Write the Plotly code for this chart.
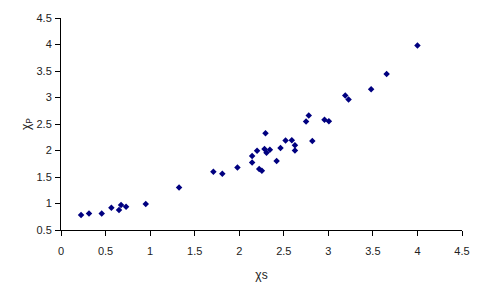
import plotly.graph_objects as go

chi_s = [0.225, 0.314, 0.457, 0.565, 0.651, 0.674, 0.73, 0.951, 1.325, 1.71, 1.81,
         1.98, 2.145, 2.145, 2.20, 2.224, 2.254, 2.284, 2.295, 2.306, 2.344, 2.42,
         2.463, 2.52, 2.59, 2.625, 2.625, 2.75, 2.78, 2.82, 2.957, 3.006,
         3.19, 3.227, 3.48, 3.654, 4.0]
chi_p = [0.783, 0.813, 0.813, 0.92, 0.877, 0.971, 0.94, 0.99, 1.30, 1.60, 1.56,
         1.68, 1.894, 1.774, 1.994, 1.649, 1.617, 2.03, 2.327, 1.956, 2.013, 1.80,
         2.045, 2.19, 2.195, 2.10, 2.0, 2.546, 2.66, 2.177, 2.578, 2.553,
         3.04, 2.96, 3.156, 3.445, 3.98]

x_ticks = [0, 0.5, 1, 1.5, 2, 2.5, 3, 3.5, 4, 4.5]
y_ticks = [0.5, 1, 1.5, 2, 2.5, 3, 3.5, 4, 4.5]

fig = go.Figure(go.Scatter(
    x=chi_s, y=chi_p, mode="markers",
    marker=dict(symbol="diamond", size=5, color="#000080", line=dict(width=0)),
))

axis_common = dict(
    showgrid=False, zeroline=False, showline=True, linecolor="#000", linewidth=1,
    ticks="outside", ticklen=5, tickcolor="#000", tickwidth=1,
    tickfont=dict(family="Liberation Sans, Arial", size=11, color="#222"),
)

fig.update_layout(
    width=500, height=294,
    margin=dict(l=61, r=38, t=18, b=64),
    paper_bgcolor="white", plot_bgcolor="white",
    showlegend=False,
    xaxis=dict(range=[0, 4.5], tickvals=x_ticks, ticktext=[f"{v:g}" for v in x_ticks],
               ticklabelstandoff=6,
               title=dict(text="χs", standoff=14,
                          font=dict(family="Liberation Sans, Arial", size=12, color="#222")),
               **axis_common),
    yaxis=dict(range=[0.5, 4.5], tickvals=y_ticks, ticktext=[f"{v:g}" for v in y_ticks],
               ticklabelstandoff=1,
               title=dict(text="χ<sub>P</sub>", standoff=3,
                          font=dict(family="Liberation Sans, Arial", size=12, color="#222")),
               **axis_common),
)

fig.write_html("out.html")
